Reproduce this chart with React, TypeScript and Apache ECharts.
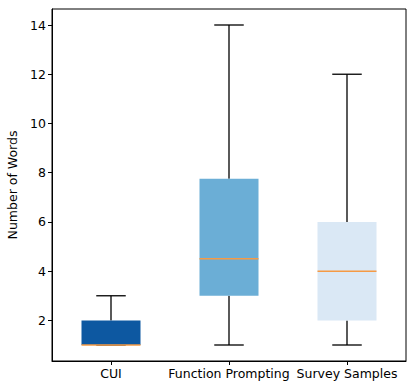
import React, { useEffect, useRef } from "react";
import * as echarts from "echarts";

const categories = ["CUI", "Function Prompting", "Survey Samples"];
const mins = [1, 1, 1];
const q1s = [1, 3, 2];
const medians = [1, 4.5, 4];
const q3s = [2, 7.75, 6];
const maxs = [3, 14, 12];
const boxColors = ["#0d58a1", "#6baed6", "#dae8f5"];
const yTicks = [2, 4, 6, 8, 10, 12, 14];

export default function App() {
  const ref = useRef<HTMLDivElement>(null);
  useEffect(() => {
    if (!ref.current) return;
    const chart = echarts.init(ref.current, null, { renderer: "svg" });
    const data = categories.map((_, i) => [i, mins[i], q1s[i], medians[i], q3s[i], maxs[i]]);
    const font = "DejaVu Sans";
    chart.setOption({
      animation: false,
      grid: {
        left: 52,
        right: 9,
        top: 9,
        bottom: 31,
        outerBoundsMode: "none",
        containLabel: false,
        show: true,
        borderColor: "#000",
        borderWidth: 1,
        backgroundColor: "transparent",
      },
      xAxis: {
        type: "category",
        data: categories,
        boundaryGap: true,
        axisLine: { show: true, lineStyle: { color: "#000", width: 1 } },
        axisTick: { show: true, alignWithLabel: true, length: 4, lineStyle: { color: "#000" } },
        axisLabel: { color: "#000", fontFamily: font, fontSize: 12.5, margin: 6, interval: 0, hideOverlap: false },
        splitLine: { show: false },
      },
      yAxis: {
        type: "value",
        min: 0.35,
        max: 14.65,
        name: "Number of Words",
        nameLocation: "middle",
        nameRotate: 90,
        nameGap: 32,
        nameTextStyle: { color: "#000", fontFamily: font, fontSize: 12.5 },
        axisLine: { show: true, lineStyle: { color: "#000", width: 1 } },
        axisTick: { show: true, length: 4, customValues: yTicks, lineStyle: { color: "#000" } },
        axisLabel: { color: "#000", fontFamily: font, fontSize: 12.5, margin: 6, customValues: yTicks },
        splitLine: { show: false },
      },
      series: [
        {
          type: "custom",
          data,
          encode: { x: 0, y: [1, 2, 3, 4, 5] },
          renderItem: (params: any, api: any) => {
            const idx = api.value(0);
            const pMin = api.coord([idx, api.value(1)]);
            const pQ1 = api.coord([idx, api.value(2)]);
            const pMed = api.coord([idx, api.value(3)]);
            const pQ3 = api.coord([idx, api.value(4)]);
            const pMax = api.coord([idx, api.value(5)]);
            const band = api.size([1, 0])[0];
            const bw = band * 0.5;
            const cw = bw * 0.5;
            const cx = pMed[0];
            const ls = { stroke: "#000", lineWidth: 1.3 };
            return {
              type: "group",
              children: [
                { type: "line", shape: { x1: cx, y1: pQ3[1], x2: cx, y2: pMax[1] }, style: ls },
                { type: "line", shape: { x1: cx, y1: pQ1[1], x2: cx, y2: pMin[1] }, style: ls },
                { type: "line", shape: { x1: cx - cw / 2, y1: pMax[1], x2: cx + cw / 2, y2: pMax[1] }, style: ls },
                { type: "line", shape: { x1: cx - cw / 2, y1: pMin[1], x2: cx + cw / 2, y2: pMin[1] }, style: ls },
                {
                  type: "rect",
                  shape: { x: cx - bw / 2, y: pQ3[1], width: bw, height: pQ1[1] - pQ3[1] },
                  style: { fill: boxColors[params.dataIndex] },
                },
                {
                  type: "line",
                  shape: { x1: cx - bw / 2, y1: pMed[1], x2: cx + bw / 2, y2: pMed[1] },
                  style: { stroke: "#f59a45", lineWidth: 1.5 },
                },
              ],
            };
          },
        },
      ],
    });
    return () => chart.dispose();
  }, []);
  return (
    <div
      ref={ref}
      style={{ position: "absolute", left: 0, top: 0, width: 415, height: 392 }}
    />
  );
}
